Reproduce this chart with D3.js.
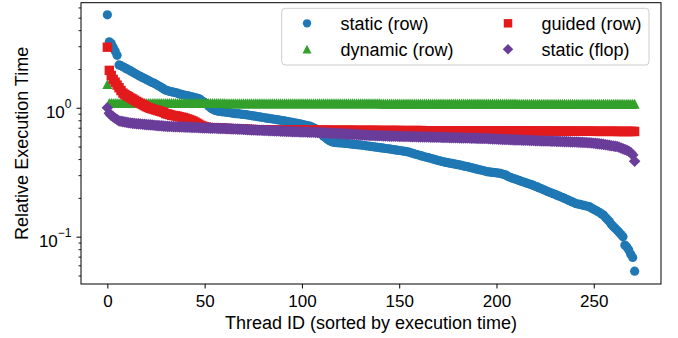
<!DOCTYPE html>
<html><head><meta charset="utf-8">
<script src="https://cdn.jsdelivr.net/npm/d3@7"></script>
<style>
body{margin:0;background:#fff}
svg{display:block}
text{font-family:"Liberation Sans",Arial,Helvetica,sans-serif;fill:#000}
</style>
</head><body>
<svg id="c" width="678" height="338"></svg>
<script>
// ---------- data ----------
const seriesNames = ["static (row)", "dynamic (row)", "guided (row)", "static (flop)"];
const xTicks = [0, 50, 100, 150, 200, 250];
const yMajorTicks = [0.1, 1];
const yMajorLabels = [["10", "\u22121"], ["10", "0"]];
const yMinorTicks = [0.05,0.06,0.07,0.08,0.09,0.2,0.3,0.4,0.5,0.6,0.7,0.8,0.9,2,3,4,5,6];

const staticRow = [
5.26,3.25,3.15,2.95,2.75,2.55,2.15,2.12,2.08,
2.04,2.00,1.97,1.93,1.89,1.85,
1.82,1.78,1.75,1.72,1.69,1.66,1.63,1.60,
1.57,1.55,1.52,1.49,1.46,1.43,1.40,1.37,
1.36,1.34,1.33,1.32,1.31,1.30,1.28,1.27,1.26,1.25,1.24,1.23,1.22,
1.21,1.20,1.19,1.18,
1.15,1.12,1.10,1.07,1.03,1.00,0.98,0.96,0.95,0.94,
0.935,0.93,0.93,0.925,0.92,0.915,0.91,0.905,
0.90,0.90,0.895,0.89,0.89,
0.885,0.88,0.875,0.87,0.865,0.86,0.855,0.85,0.845,0.84,0.835,0.83,
0.826,0.822,0.818,0.814,0.81,0.805,0.80,
0.795,0.79,0.785,0.78,0.775,0.77,0.765,0.76,0.755,0.75,
0.745,0.738,0.732,0.726,0.72,0.71,0.70,0.685,
0.665,0.645,0.625,0.605,0.588,0.572,0.558,0.548,0.54,
0.538,0.536,0.535,0.534,0.532,0.53,0.528,0.526,0.524,0.522,0.52,0.518,0.516,0.515,
0.512,0.51,0.507,0.505,0.502,0.5,0.498,0.495,0.493,0.49,
0.488,0.486,0.483,0.481,0.479,0.476,0.474,0.471,0.469,0.466,0.464,0.461,0.459,0.456,
0.452,0.447,0.443,0.438,0.434,0.43,0.425,0.421,0.417,0.413,0.41,
0.406,0.402,0.398,0.394,0.39,0.387,0.383,0.38,
0.377,0.375,0.372,0.37,0.367,0.365,0.362,0.36,
0.357,0.354,0.351,0.349,0.346,0.343,0.34,
0.337,0.334,0.331,0.329,0.326,0.323,0.32,
0.318,0.317,0.315,0.314,0.313,0.311,0.31,
0.306,0.303,0.30,0.293,0.289,0.285,
0.282,0.279,0.275,0.272,0.268,0.265,0.262,0.259,0.256,0.253,0.25,
0.246,0.243,0.239,0.236,0.232,0.229,0.225,0.222,0.219,0.216,0.213,0.21,
0.207,0.204,0.201,0.198,0.195,0.192,0.189,0.186,0.183,0.18,
0.179,0.178,0.176,0.175,0.173,0.172,0.17,
0.166,0.163,0.16,0.157,0.154,0.15,0.147,
0.141,0.136,0.131,0.125,0.12,
0.116,0.112,0.108,0.104,0.10,
0.086,0.083,0.079,0.073,0.069,0.054
];

const dynamicRow = [
1.52,
1.085,1.085,1.085,1.085,1.085,1.085,1.085,1.085,1.085,1.085,
1.085,1.085,1.085,1.085,1.085,1.085,1.085,1.085,1.085,1.085,
1.085,1.085,1.085,1.085,1.085,1.085,1.085,1.085,1.085,1.085,
1.085,1.085,1.085,1.085,1.085,1.085,1.085,1.085,1.085,1.085,
1.085,1.085,1.085,1.085,1.085,1.085,1.085,1.085,1.085,1.085,
1.085,1.085,1.085,1.085,1.085,1.085,1.085,1.085,1.085,1.085,
1.08,1.08,1.08,1.08,1.08,1.08,1.08,1.08,1.08,1.08,
1.08,1.08,1.08,1.08,1.08,1.08,1.08,1.08,1.08,1.08,
1.08,1.08,1.08,1.08,1.08,1.08,1.08,1.08,1.08,1.08,
1.08,1.08,1.08,1.08,1.08,1.08,1.08,1.08,1.08,1.08,
1.08,1.08,1.08,1.08,1.08,1.08,1.08,1.08,1.08,1.08,
1.08,1.08,1.08,1.08,1.08,1.08,1.08,1.08,1.08,1.08,
1.08,1.08,1.08,1.08,1.08,1.08,1.08,1.08,1.08,1.08,
1.08,1.08,1.08,1.08,1.08,1.08,1.08,1.08,1.08,1.08,
1.075,1.075,1.075,1.075,1.075,1.075,1.075,1.075,1.075,1.075,
1.075,1.075,1.075,1.075,1.075,1.075,1.075,1.075,1.075,1.075,
1.075,1.075,1.075,1.075,1.075,1.075,1.075,1.075,1.075,1.075,
1.075,1.075,1.075,1.075,1.075,1.075,1.075,1.075,1.075,1.075,
1.075,1.075,1.075,1.075,1.075,1.075,1.075,1.075,1.075,1.075,
1.075,1.075,1.075,1.075,1.075,1.075,1.075,1.075,1.075,1.075,
1.075,1.075,1.075,1.075,1.075,1.075,1.075,1.075,1.075,1.075,
1.07,1.07,1.07,1.07,1.07,1.07,1.07,1.07,1.07,1.07,
1.07,1.07,1.07,1.07,1.07,1.07,1.07,1.07,1.07,1.07,
1.07,1.07,1.07,1.07,1.07,1.07,1.07,1.07,1.07,1.07,
1.07,1.07,1.07,1.07,1.07,1.07,1.07,1.07,1.07,1.07,
1.07,1.07,1.07,1.07,1.07,1.07,1.07,1.07,1.07,1.07,
1.07,1.07,1.07,1.07,1.07,1.07,1.07,1.07,1.07,1.07,
1.07
];

const guidedRow = [
2.95,1.95,1.78,1.66,1.58,1.50,1.43,1.36,1.30,
1.27,1.24,1.22,1.19,1.17,1.145,1.12,1.10,
1.08,1.06,1.04,1.02,1.005,0.99,0.98,0.97,0.96,0.95,
0.94,0.93,0.92,0.90,0.895,0.885,0.875,0.87,0.865,0.86,0.85,0.845,0.84,
0.83,0.82,0.81,0.80,0.79,0.775,0.76,0.745,0.73,0.72,0.712,0.706,0.702,
0.699,0.698,0.697,0.696,0.695,0.694,0.693,0.692,
0.691,0.69,0.689,0.688,0.687,0.686,0.685,0.684,0.683,0.682,0.681,0.68,0.679,0.678,0.677,0.676,0.675,0.675,0.674,0.674,
0.674,0.673,0.673,0.672,0.672,0.671,0.671,0.67,0.67,0.67,0.67,0.67,
0.67,0.67,0.67,0.67,0.67,0.67,0.67,0.67,0.67,0.67,
0.669,0.669,0.669,0.669,0.669,0.669,0.669,0.669,0.669,0.669,0.669,0.669,
0.668,0.668,0.668,0.668,0.668,0.668,0.668,0.668,0.668,0.668,0.668,0.668,
0.667,0.667,0.667,0.667,0.667,0.667,0.667,0.667,0.667,0.667,0.667,0.667,
0.666,0.666,0.666,0.666,0.666,0.666,0.666,0.666,0.666,0.666,0.666,0.666,
0.665,0.665,0.665,0.665,0.665,0.665,0.665,0.665,0.665,0.665,0.665,0.665,
0.664,0.664,0.664,0.664,0.664,0.664,0.664,0.664,0.664,0.664,0.664,0.664,0.664,
0.663,0.663,0.663,0.663,0.663,0.663,0.663,0.663,0.663,0.663,0.663,0.663,0.663,
0.662,0.662,0.662,0.662,0.662,0.662,0.662,0.662,0.662,0.662,0.662,0.662,
0.661,0.661,0.661,0.661,0.661,0.661,0.661,0.661,0.661,0.661,
0.660,0.660,0.660,0.660,0.660,0.660,0.660,0.660,0.660,0.660,
0.659,0.659,0.659,0.659,0.659,0.659,0.659,0.659,0.659,0.659,
0.658,0.658,0.658,0.658,0.658,0.658,0.658,0.658,0.658,0.658,
0.657,0.657,0.657,0.657,0.657,0.657,0.657,0.657,0.657,0.657,
0.656,0.656,0.656,0.656,0.656,0.656,0.656,0.656,0.656,0.656,0.656,
0.655,0.655,0.655,0.655,0.655,0.655,0.655,0.655,0.655,0.655
];

const staticFlop = [
1.00,0.905,0.87,0.85,0.83,0.81,0.79,
0.785,0.78,0.775,0.77,0.765,0.761,0.757,
0.755,0.752,0.75,0.748,0.745,0.743,0.74,
0.738,0.736,0.734,0.731,0.729,0.727,0.725,0.723,0.72,0.718,
0.717,0.716,0.715,0.714,0.713,0.712,0.711,0.71,0.709,0.708,0.707,0.706,0.705,0.704,0.703,0.702,0.70,
0.699,0.698,0.697,0.697,0.696,0.695,0.694,0.693,0.693,0.692,0.691,0.69,0.69,
0.689,0.688,0.687,0.686,0.685,0.684,0.683,0.682,0.681,0.679,0.678,0.677,0.675,
0.674,0.673,0.672,0.671,0.670,0.669,0.668,0.667,0.666,0.665,0.664,0.663,0.662,0.661,0.660,0.659,0.658,0.657,0.656,0.655,0.654,0.653,0.652,0.651,0.651,0.65,
0.649,0.649,0.648,0.647,0.647,0.646,0.645,0.644,
0.643,0.642,0.641,0.639,0.638,0.637,0.636,0.635,0.634,0.632,0.631,0.63,0.629,0.628,0.627,0.625,0.624,0.623,0.622,0.621,0.62,0.618,0.617,0.616,0.615,0.613,0.612,0.61,
0.609,0.609,0.608,0.607,0.607,0.606,0.605,0.605,0.604,0.603,0.603,0.602,0.601,0.601,0.60,
0.6,0.599,0.599,0.598,0.598,0.597,0.597,0.596,0.596,0.595,0.595,0.594,0.594,0.593,0.593,0.592,0.592,0.591,0.591,0.59,
0.59,0.589,0.589,0.588,0.588,0.587,0.587,0.586,0.586,0.585,0.584,0.584,0.583,0.583,0.582,0.582,0.581,0.581,0.58,0.579,0.579,0.578,0.578,0.577,0.577,0.576,0.575,
0.574,0.573,0.572,0.571,0.57,0.569,0.569,0.568,0.567,0.566,0.565,0.564,0.564,0.563,0.562,0.561,0.56,0.56,0.559,0.558,0.557,0.557,0.556,0.555,0.555,0.554,0.553,0.553,0.552,0.552,0.551,0.551,0.55,
0.549,0.549,0.548,0.547,0.546,0.546,0.545,0.544,0.543,0.543,0.542,0.541,0.54,0.539,0.538,0.537,0.536,0.535,
0.533,0.531,0.529,0.527,0.525,0.522,0.52,0.517,0.514,0.511,0.508,0.505,0.502,0.50,
0.494,0.487,0.48,0.474,0.468,0.46,0.45,0.43,0.385
];

// ---------- chart ----------
const svg = d3.select("#c");
const L = 81, R = 661, T = 2.7, B = 284;
const x = d3.scaleLinear().domain([-13.55, 284.55]).range([L, R]);
const y = d3.scaleLog().domain([0.04295, 6.53]).range([B, T]);

const shapes = {
  circle: d3.symbol(d3.symbolCircle, Math.PI * 4.6 * 4.6)(),
  triangle: "M0,-5.1L5,4.8L-5,4.8Z",
  square: "M-4.7,-4.7H4.7V4.7H-4.7Z",
  diamond: "M0,-5.8L5.8,0L0,5.8L-5.8,0Z"
};
const series = [
  {name: seriesNames[0], values: staticRow,  color: "#1f78b4", shape: "circle"},
  {name: seriesNames[1], values: dynamicRow, color: "#33a02c", shape: "triangle"},
  {name: seriesNames[2], values: guidedRow,  color: "#e31a1c", shape: "square"},
  {name: seriesNames[3], values: staticFlop, color: "#6a3d9a", shape: "diamond"}
];

const plot = svg.append("g");
series.forEach(s => {
  plot.append("g").selectAll("path").data(s.values).join("path")
    .attr("d", shapes[s.shape])
    .attr("transform", (v, i) => `translate(${x(i)},${y(v)})`)
    .attr("fill", s.color);
});

// axes
const xAxis = d3.axisBottom(x).tickValues(xTicks).tickSize(4.5).tickPadding(6.1).tickFormat(d3.format("d"));
const gx = svg.append("g").attr("transform", `translate(0,${B})`).call(xAxis);
gx.select(".domain").remove();
gx.selectAll("text").attr("font-size", 17).attr("font-family", '"Liberation Sans",Arial,sans-serif').attr("fill", "#000");
gx.selectAll("line").attr("stroke", "#000").attr("stroke-width", 1);

const yAxis = d3.axisLeft(y).tickValues(yMajorTicks).tickSize(4.5).tickFormat("");
const gy = svg.append("g").attr("transform", `translate(${L},0)`).call(yAxis);
gy.select(".domain").remove();
gy.selectAll("line").attr("stroke", "#000").attr("stroke-width", 1);
const yAxisMinor = d3.axisLeft(y).tickValues(yMinorTicks).tickSize(2.5).tickFormat("");
const gym = svg.append("g").attr("transform", `translate(${L},0)`).call(yAxisMinor);
gym.select(".domain").remove();
gym.selectAll("line").attr("stroke", "#000").attr("stroke-width", 0.9);

yMajorTicks.forEach((t, i) => {
  const tx = svg.append("text").attr("x", 71.5).attr("y", y(t) + 10)
    .attr("text-anchor", "end").attr("font-size", 17);
  tx.append("tspan").text(yMajorLabels[i][0]);
  tx.append("tspan").attr("dy", -10).attr("font-size", 12).text(yMajorLabels[i][1]);
});

// frame
svg.append("rect").attr("x", L).attr("y", T).attr("width", R - L).attr("height", B - T)
  .attr("fill", "none").attr("stroke", "#000").attr("stroke-width", 1);

// axis labels
svg.append("text").attr("x", (L + R) / 2).attr("y", 328.5).attr("text-anchor", "middle")
  .attr("font-size", 18).text("Thread ID (sorted by execution time)");
svg.append("text").attr("transform", `translate(28.3,${(T + B) / 2}) rotate(-90)`)
  .attr("text-anchor", "middle").attr("font-size", 18).text("Relative Execution Time");

// legend
const lg = svg.append("g");
lg.append("rect").attr("x", 281.7).attr("y", 8.3).attr("width", 367.3).attr("height", 56.7)
  .attr("rx", 3.5).attr("fill", "#fff").attr("fill-opacity", 0.8)
  .attr("stroke", "#cccccc").attr("stroke-width", 1);
const legendPos = [[307, 23.3], [307, 49.3], [508, 23.3], [508, 49.3]];
series.forEach((s, i) => {
  const [mx, my] = legendPos[i];
  lg.append("path").attr("d", shapes[s.shape]).attr("transform", `translate(${mx},${my}) scale(0.9)`).attr("fill", s.color);
  lg.append("text").attr("x", mx + 33.5).attr("y", my + 6.3).attr("font-size", 18).text(s.name);
});
</script>
</body></html>
